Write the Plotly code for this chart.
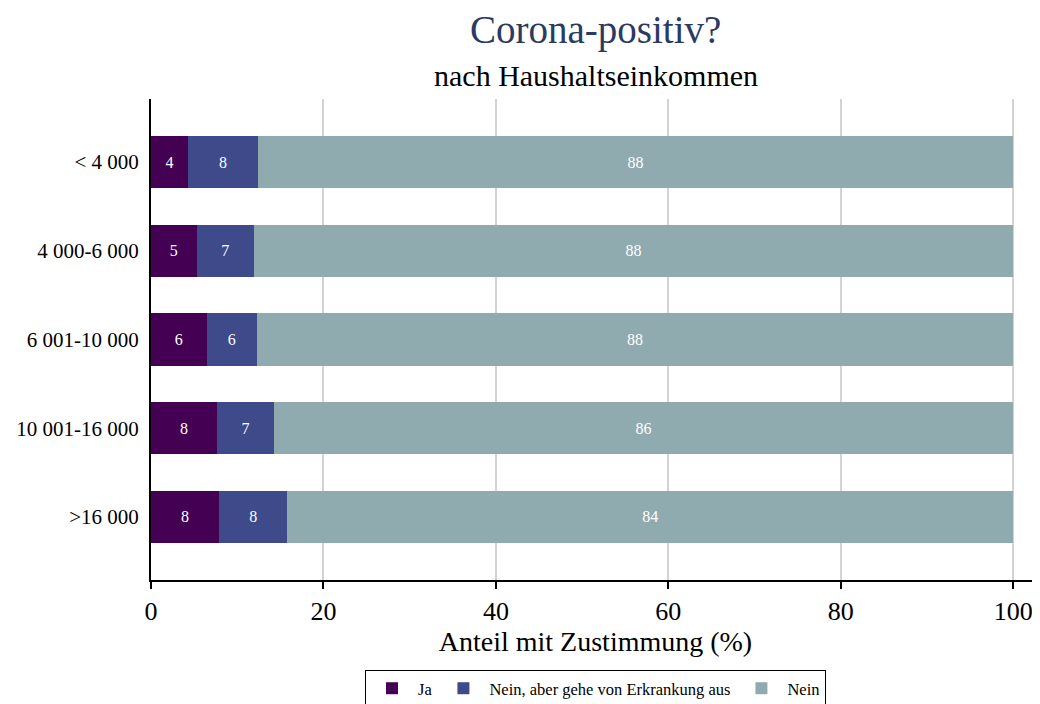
import plotly.graph_objects as go

categories = ["< 4 000", "4 000-6 000", "6 001-10 000", "10 001-16 000", ">16 000"]
ja = [4.3, 5.3, 6.45, 7.65, 7.9]
nein_aber = [8.1, 6.6, 5.8, 6.6, 7.9]
nein = [87.6, 88.1, 87.75, 85.75, 84.2]
series_names = ["Ja", "Nein, aber gehe von Erkrankung aus", "Nein"]
colors = ["#440154", "#3e4a89", "#8fabb0"]

FONT = "Liberation Serif"
# page body has an 8px default margin; compensate so the plot lands where the reference has it
OFF = 8
PLOT_TOP, PLOT_BOTTOM, PLOT_LEFT = 99, 580, 151
W, H = 1040 - OFF, 704 - OFF
PH = PLOT_BOTTOM - PLOT_TOP

fig = go.Figure()
for name, vals, col in zip(series_names, [ja, nein_aber, nein], colors):
    fig.add_trace(go.Bar(
        y=categories, x=vals, name=name, orientation="h",
        marker=dict(color=col, line=dict(width=0)),
        texttemplate="%{x:.0f}", textposition="inside", insidetextanchor="middle",
        textfont=dict(color="white", size=16, family=FONT),
        hoverinfo="x+name",
    ))

fig.update_layout(
    barmode="stack",
    bargap=0.41,
    width=W, height=H,
    margin=dict(l=PLOT_LEFT - OFF, r=0, t=PLOT_TOP - OFF, b=H - (PLOT_BOTTOM - OFF), autoexpand=False),
    plot_bgcolor="white", paper_bgcolor="white",
    font=dict(family=FONT, color="black"),
    showlegend=True,
    legend=dict(
        orientation="h", x=0.5, xanchor="center", y=-(670 - PLOT_BOTTOM) / PH, yanchor="top",
        bordercolor="black", borderwidth=1,
        font=dict(size=16.5, family=FONT), traceorder="normal",
        itemwidth=42,
    ),
    annotations=[
        dict(text="Corona-positiv?", x=0.5, xref="paper", xanchor="center",
             y=1 + (PLOT_TOP - 30) / PH, yref="paper", yanchor="middle",
             showarrow=False, font=dict(size=39, color="#2a3a63", family=FONT)),
        dict(text="nach Haushaltseinkommen", x=0.5, xref="paper", xanchor="center",
             y=1 + (PLOT_TOP - 75) / PH, yref="paper", yanchor="middle",
             showarrow=False, font=dict(size=30, color="black", family=FONT)),
    ],
)

fig.update_xaxes(
    range=[0, 103.1], tickvals=[0, 20, 40, 60, 80, 100],
    showgrid=True, gridcolor="#d3d3d3", gridwidth=2,
    showline=True, linecolor="black", linewidth=2,
    ticks="outside", ticklen=7, tickcolor="black", tickwidth=1.5,
    tickfont=dict(size=26, family=FONT),
    title=dict(text="Anteil mit Zustimmung (%)", font=dict(size=28, family=FONT), standoff=6),
    zeroline=False, automargin=False,
)
fig.update_yaxes(
    autorange=False, range=[4.71, -0.71],
    categoryorder="array", categoryarray=categories,
    showgrid=False, showline=True, linecolor="black", linewidth=2,
    ticks="", tickfont=dict(size=21, family=FONT), ticklabelstandoff=6,
    automargin=False,
)

fig.write_html("out.html")
